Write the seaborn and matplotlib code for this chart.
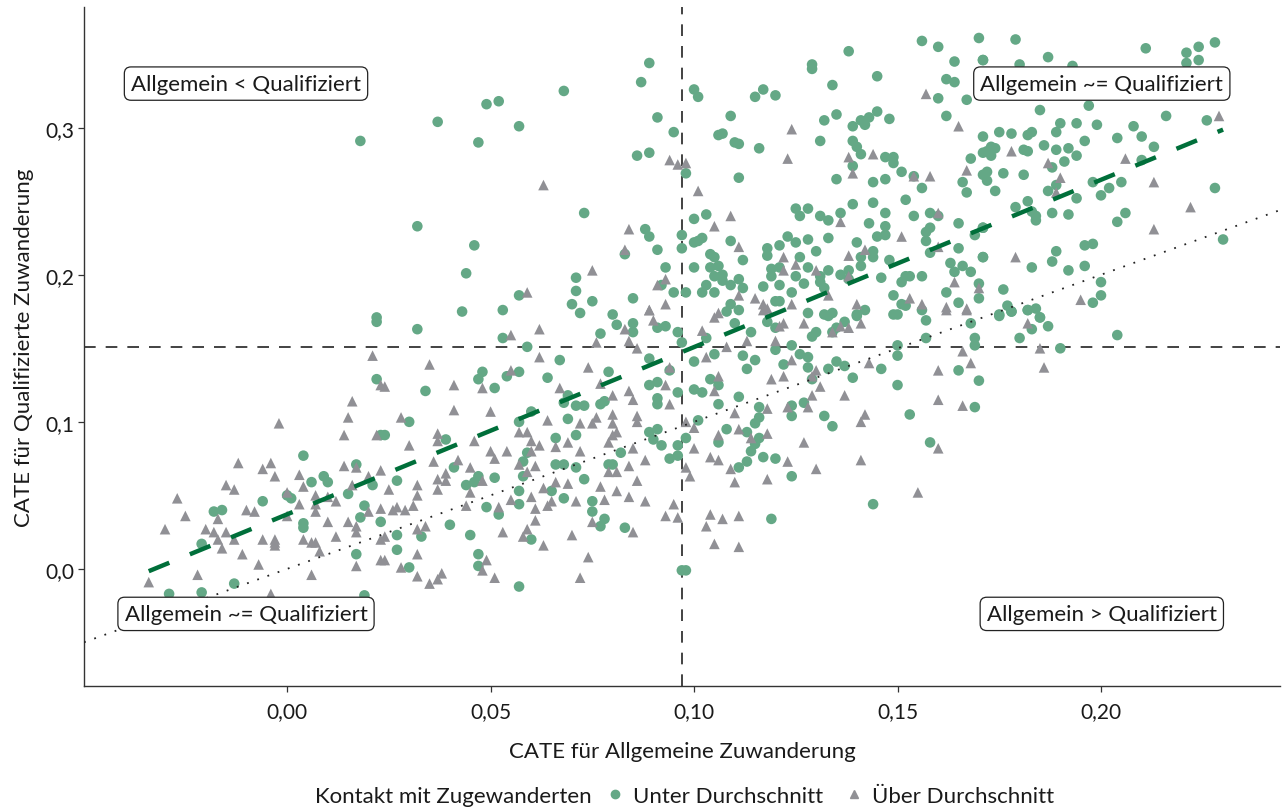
import matplotlib
matplotlib.use("Agg")
import matplotlib.pyplot as plt
from matplotlib.lines import Line2D
from matplotlib.ticker import FuncFormatter
import seaborn as sns
import pandas as pd
import numpy as np

# CATE (Allgemein, Qualifiziert) per Person, Kontakt unter Durchschnitt
unter = [
    (0.018, 0.291), (0.022, 0.171),
    (0.089, 0.344), (0.087, 0.331), (0.068, 0.325), (0.052, 0.318), (0.049, 0.316), (0.037, 0.304),
    (0.057, 0.301), (0.047, 0.290), (0.091, 0.307), (0.095, 0.297), (0.086, 0.281), (0.089, 0.283),
    (0.073, 0.242), (0.032, 0.233), (0.046, 0.220), (0.044, 0.201), (0.088, 0.231), (0.089, 0.226),
    (0.097, 0.227), (0.097, 0.218), (0.091, 0.217), (0.083, 0.214), (0.093, 0.205), (0.071, 0.198),
    (0.071, 0.189), (0.092, 0.193), (0.095, 0.188), (0.057, 0.186), (0.070, 0.180), (0.075, 0.182),
    (0.085, 0.184), (0.043, 0.175), (0.053, 0.176), (0.072, 0.174), (0.080, 0.173),
    (0.156, 0.359), (0.160, 0.355), (0.170, 0.361), (0.138, 0.352), (0.129, 0.343), (0.129, 0.340),
    (0.145, 0.335), (0.164, 0.345), (0.162, 0.333), (0.164, 0.331), (0.171, 0.346), (0.134, 0.329),
    (0.100, 0.326), (0.101, 0.321), (0.117, 0.326), (0.115, 0.321), (0.120, 0.322), (0.160, 0.320),
    (0.167, 0.319), (0.109, 0.308), (0.135, 0.309), (0.132, 0.305), (0.145, 0.311), (0.148, 0.306),
    (0.143, 0.307), (0.141, 0.305), (0.139, 0.301), (0.142, 0.302), (0.162, 0.308), (0.106, 0.295),
    (0.107, 0.296), (0.110, 0.290), (0.111, 0.289), (0.116, 0.286), (0.131, 0.291), (0.139, 0.291),
    (0.140, 0.287), (0.141, 0.282), (0.171, 0.294), (0.171, 0.283), (0.147, 0.280), (0.149, 0.280),
    (0.149, 0.276), (0.139, 0.274), (0.151, 0.270), (0.154, 0.267), (0.168, 0.279), (0.171, 0.268),
    (0.098, 0.269), (0.111, 0.266), (0.135, 0.265), (0.147, 0.265), (0.144, 0.263), (0.156, 0.259),
    (0.166, 0.263), (0.167, 0.256), (0.139, 0.248), (0.144, 0.249), (0.152, 0.251), (0.125, 0.245),
    (0.128, 0.245), (0.126, 0.240), (0.131, 0.240), (0.133, 0.237), (0.136, 0.242), (0.143, 0.235),
    (0.147, 0.242), (0.154, 0.240), (0.158, 0.242), (0.160, 0.240), (0.165, 0.235), (0.171, 0.232),
    (0.100, 0.238), (0.103, 0.241), (0.100, 0.222), (0.101, 0.223), (0.102, 0.225), (0.109, 0.223),
    (0.104, 0.214), (0.105, 0.212), (0.112, 0.210), (0.100, 0.205), (0.104, 0.205), (0.106, 0.206),
    (0.105, 0.199), (0.107, 0.200), (0.107, 0.196), (0.109, 0.193), (0.111, 0.197), (0.112, 0.191),
    (0.103, 0.193), (0.102, 0.188), (0.098, 0.188), (0.105, 0.188), (0.109, 0.180), (0.108, 0.175),
    (0.111, 0.176), (0.118, 0.218), (0.118, 0.213), (0.121, 0.220), (0.123, 0.226), (0.125, 0.222),
    (0.128, 0.224), (0.133, 0.225), (0.130, 0.216), (0.126, 0.212), (0.119, 0.204), (0.121, 0.205),
    (0.119, 0.199), (0.121, 0.193), (0.117, 0.192), (0.124, 0.188), (0.120, 0.182), (0.121, 0.182),
    (0.125, 0.199), (0.127, 0.194), (0.128, 0.205), (0.131, 0.199), (0.133, 0.203), (0.136, 0.200),
    (0.138, 0.203), (0.138, 0.197), (0.131, 0.195), (0.132, 0.191), (0.128, 0.174), (0.132, 0.173),
    (0.134, 0.174), (0.140, 0.222), (0.141, 0.212), (0.141, 0.206), (0.144, 0.212), (0.144, 0.216),
    (0.145, 0.226), (0.147, 0.227), (0.147, 0.233), (0.148, 0.210), (0.146, 0.198), (0.142, 0.176),
    (0.140, 0.173), (0.149, 0.186), (0.151, 0.195), (0.152, 0.199), (0.153, 0.199), (0.151, 0.180),
    (0.152, 0.179), (0.149, 0.173), (0.156, 0.199), (0.157, 0.229), (0.158, 0.232), (0.158, 0.215),
    (0.157, 0.223), (0.165, 0.218), (0.169, 0.227), (0.163, 0.208), (0.166, 0.206), (0.164, 0.202),
    (0.168, 0.202), (0.171, 0.212), (0.162, 0.188), (0.165, 0.181), (0.170, 0.184), (0.156, 0.176),
    (0.170, 0.194),
    (0.179, 0.360), (0.211, 0.354), (0.221, 0.351), (0.224, 0.355), (0.228, 0.358), (0.224, 0.346),
    (0.221, 0.344), (0.187, 0.348), (0.180, 0.343), (0.171, 0.346), (0.193, 0.342), (0.185, 0.312),
    (0.197, 0.315), (0.216, 0.308), (0.226, 0.305), (0.190, 0.303), (0.194, 0.303), (0.199, 0.302),
    (0.208, 0.301), (0.175, 0.297), (0.178, 0.296), (0.182, 0.295), (0.183, 0.297), (0.189, 0.297),
    (0.204, 0.293), (0.210, 0.294), (0.173, 0.287), (0.174, 0.286), (0.172, 0.284), (0.173, 0.281),
    (0.181, 0.285), (0.182, 0.284), (0.186, 0.288), (0.189, 0.285), (0.192, 0.286), (0.196, 0.291),
    (0.194, 0.281), (0.191, 0.277), (0.188, 0.273), (0.213, 0.287), (0.210, 0.278), (0.172, 0.270),
    (0.172, 0.264), (0.176, 0.269), (0.181, 0.268), (0.174, 0.257), (0.198, 0.263), (0.205, 0.263),
    (0.202, 0.259), (0.200, 0.254), (0.189, 0.261), (0.187, 0.257), (0.194, 0.252), (0.182, 0.250),
    (0.179, 0.246), (0.183, 0.243), (0.184, 0.240), (0.184, 0.237), (0.188, 0.242), (0.192, 0.241),
    (0.206, 0.242), (0.204, 0.236), (0.228, 0.259), (0.230, 0.224), (0.171, 0.232), (0.171, 0.212),
    (0.196, 0.220), (0.198, 0.221), (0.189, 0.216), (0.188, 0.209), (0.183, 0.205), (0.192, 0.203),
    (0.196, 0.206), (0.200, 0.195), (0.200, 0.186), (0.198, 0.181), (0.176, 0.190), (0.177, 0.179),
    (0.178, 0.175), (0.182, 0.176), (0.184, 0.177), (0.185, 0.171), (0.175, 0.173),
    (0.022, 0.168), (0.022, 0.129), (0.023, 0.091), (0.004, 0.077), (0.017, 0.071), (0.009, 0.063),
    (0.010, 0.059), (0.006, 0.059), (-0.006, 0.046), (0.000, 0.050), (0.001, 0.048), (0.015, 0.051),
    (0.019, 0.043), (-0.018, 0.039), (-0.016, 0.040), (0.021, 0.057), (0.018, 0.035), (0.023, 0.032),
    (0.004, 0.031), (0.004, 0.028), (-0.021, 0.017), (0.017, 0.010), (-0.013, -0.010), (-0.029, -0.017),
    (-0.021, -0.016), (0.019, -0.018),
    (0.032, 0.163), (0.053, 0.157), (0.059, 0.151), (0.077, 0.160), (0.081, 0.166), (0.085, 0.167),
    (0.085, 0.161), (0.091, 0.164), (0.093, 0.165), (0.096, 0.161), (0.097, 0.154), (0.067, 0.142),
    (0.079, 0.134), (0.089, 0.143), (0.048, 0.134), (0.047, 0.129), (0.057, 0.134), (0.054, 0.131),
    (0.051, 0.123), (0.064, 0.130), (0.034, 0.121), (0.094, 0.135), (0.089, 0.125), (0.091, 0.127),
    (0.096, 0.120), (0.069, 0.118), (0.068, 0.113), (0.071, 0.111), (0.073, 0.111), (0.077, 0.112),
    (0.078, 0.114), (0.091, 0.116), (0.091, 0.112), (0.060, 0.107), (0.069, 0.102), (0.057, 0.100),
    (0.030, 0.100), (0.024, 0.091), (0.039, 0.088), (0.066, 0.089), (0.071, 0.091), (0.089, 0.093),
    (0.090, 0.088), (0.091, 0.095), (0.092, 0.084), (0.096, 0.084), (0.094, 0.075), (0.096, 0.077),
    (0.082, 0.079), (0.059, 0.079), (0.058, 0.073), (0.066, 0.071), (0.068, 0.071), (0.071, 0.069),
    (0.079, 0.071), (0.080, 0.071), (0.041, 0.069), (0.047, 0.063), (0.046, 0.059), (0.051, 0.062),
    (0.058, 0.063), (0.073, 0.061), (0.027, 0.060), (0.044, 0.057), (0.057, 0.053), (0.065, 0.053),
    (0.068, 0.048), (0.057, 0.044), (0.049, 0.042), (0.052, 0.037), (0.075, 0.046), (0.075, 0.039),
    (0.078, 0.034), (0.077, 0.029), (0.083, 0.028), (0.040, 0.030), (0.045, 0.023), (0.033, 0.022),
    (0.027, 0.023), (0.027, 0.013), (0.030, 0.001), (0.047, 0.010), (0.047, 0.002), (0.060, 0.020),
    (0.057, -0.012), (0.097, -0.001),
    (0.110, 0.167), (0.114, 0.161), (0.118, 0.168), (0.120, 0.164), (0.133, 0.172), (0.140, 0.172),
    (0.137, 0.168), (0.135, 0.164), (0.134, 0.161), (0.130, 0.161), (0.129, 0.158), (0.150, 0.173),
    (0.157, 0.169), (0.168, 0.167), (0.157, 0.157), (0.169, 0.157), (0.169, 0.152), (0.150, 0.152),
    (0.150, 0.145), (0.165, 0.135), (0.170, 0.128), (0.169, 0.110), (0.150, 0.125), (0.146, 0.136),
    (0.153, 0.105), (0.158, 0.086), (0.144, 0.044), (0.139, 0.130), (0.133, 0.136), (0.135, 0.141),
    (0.137, 0.138), (0.128, 0.144), (0.128, 0.137), (0.129, 0.129), (0.124, 0.152), (0.126, 0.146),
    (0.120, 0.149), (0.122, 0.139), (0.112, 0.145), (0.115, 0.142), (0.113, 0.136), (0.105, 0.146),
    (0.103, 0.157), (0.100, 0.141), (0.104, 0.129), (0.106, 0.125), (0.100, 0.122), (0.102, 0.120),
    (0.106, 0.112), (0.111, 0.117), (0.116, 0.110), (0.116, 0.103), (0.115, 0.099), (0.124, 0.104),
    (0.124, 0.111), (0.127, 0.113), (0.132, 0.104), (0.134, 0.097), (0.101, 0.101), (0.108, 0.095),
    (0.113, 0.093), (0.116, 0.089), (0.106, 0.086), (0.098, 0.089), (0.115, 0.085), (0.114, 0.080),
    (0.117, 0.076), (0.120, 0.075), (0.113, 0.073), (0.111, 0.069), (0.124, 0.063), (0.119, 0.034),
    (0.098, -0.001),
    (0.175, 0.172), (0.178, 0.175), (0.182, 0.176), (0.185, 0.171), (0.183, 0.163), (0.187, 0.165),
    (0.180, 0.157), (0.190, 0.150), (0.204, 0.159),
]

# Kontakt über Durchschnitt
ueber = [
    (0.094, 0.278), (0.096, 0.275), (0.063, 0.261), (0.084, 0.231), (0.083, 0.217), (0.075, 0.203),
    (0.059, 0.188), (0.093, 0.197), (0.091, 0.193), (0.093, 0.180), (0.089, 0.176),
    (0.157, 0.323), (0.165, 0.301), (0.124, 0.299), (0.123, 0.279), (0.098, 0.276), (0.138, 0.280),
    (0.144, 0.282), (0.139, 0.269), (0.154, 0.267), (0.158, 0.267), (0.167, 0.271), (0.101, 0.257),
    (0.109, 0.240), (0.105, 0.233), (0.111, 0.219), (0.160, 0.242), (0.136, 0.236), (0.151, 0.226),
    (0.142, 0.217), (0.138, 0.213), (0.160, 0.219), (0.122, 0.212), (0.125, 0.207), (0.122, 0.203),
    (0.130, 0.203), (0.138, 0.199), (0.111, 0.186), (0.115, 0.184), (0.117, 0.180), (0.118, 0.177),
    (0.106, 0.174), (0.124, 0.180), (0.133, 0.186), (0.140, 0.180), (0.164, 0.195), (0.170, 0.191),
    (0.153, 0.184), (0.156, 0.180), (0.162, 0.178), (0.167, 0.177),
    (0.178, 0.284), (0.187, 0.276), (0.206, 0.279), (0.190, 0.266), (0.189, 0.256), (0.213, 0.263),
    (0.222, 0.246), (0.213, 0.231), (0.229, 0.308), (0.179, 0.212), (0.195, 0.183),
    (0.021, 0.145), (0.023, 0.125), (0.016, 0.114), (0.015, 0.103), (0.014, 0.091), (-0.002, 0.099),
    (0.022, 0.091), (-0.012, 0.072), (-0.004, 0.072), (-0.006, 0.068), (-0.003, 0.063), (0.014, 0.070),
    (0.017, 0.069), (0.020, 0.063), (0.023, 0.067), (-0.015, 0.057), (-0.013, 0.054), (-0.027, 0.048),
    (0.003, 0.064), (0.004, 0.056), (0.000, 0.052), (0.007, 0.050), (0.007, 0.044), (0.010, 0.049),
    (0.012, 0.046), (0.016, 0.057), (0.003, 0.044), (0.000, 0.036), (-0.010, 0.040), (-0.008, 0.039),
    (-0.025, 0.036), (-0.017, 0.034), (-0.020, 0.027), (-0.030, 0.027), (-0.018, 0.025), (-0.015, 0.025),
    (-0.017, 0.020), (-0.013, 0.020), (-0.006, 0.020), (-0.016, 0.014), (-0.011, 0.010), (-0.003, 0.018),
    (-0.003, 0.020), (-0.003, 0.016), (0.010, 0.032), (0.015, 0.032), (0.017, 0.029), (0.017, 0.025),
    (0.012, 0.022), (0.004, 0.020), (0.006, 0.018), (0.007, 0.018), (0.008, 0.012), (0.023, 0.020),
    (0.023, 0.006), (-0.007, 0.003), (-0.022, -0.004), (0.006, -0.004), (0.017, 0.002), (-0.034, -0.009),
    (-0.004, -0.017), (0.023, 0.041), (0.020, 0.039), (0.007, 0.039),
    (0.055, 0.159), (0.062, 0.163), (0.076, 0.154), (0.083, 0.163), (0.084, 0.155), (0.086, 0.150),
    (0.090, 0.169), (0.089, 0.176), (0.035, 0.139), (0.055, 0.135), (0.062, 0.144), (0.074, 0.137),
    (0.094, 0.137), (0.024, 0.124), (0.041, 0.125), (0.048, 0.123), (0.067, 0.123), (0.077, 0.126),
    (0.084, 0.121), (0.093, 0.125), (0.080, 0.118), (0.085, 0.115), (0.041, 0.108), (0.050, 0.107),
    (0.094, 0.112), (0.028, 0.103), (0.064, 0.101), (0.072, 0.099), (0.076, 0.103), (0.075, 0.099),
    (0.080, 0.105), (0.086, 0.104), (0.086, 0.100), (0.080, 0.099), (0.081, 0.093), (0.080, 0.091),
    (0.037, 0.092), (0.037, 0.087), (0.046, 0.087), (0.057, 0.093), (0.059, 0.093), (0.060, 0.087),
    (0.066, 0.083), (0.069, 0.086), (0.062, 0.084), (0.050, 0.080), (0.054, 0.080), (0.060, 0.080),
    (0.072, 0.080), (0.085, 0.082), (0.079, 0.086), (0.030, 0.084), (0.036, 0.073), (0.042, 0.074),
    (0.051, 0.075), (0.057, 0.071), (0.061, 0.070), (0.084, 0.070), (0.088, 0.074), (0.045, 0.069),
    (0.059, 0.066), (0.079, 0.066), (0.081, 0.066), (0.039, 0.065), (0.037, 0.061), (0.039, 0.060),
    (0.048, 0.060), (0.066, 0.059), (0.086, 0.060), (0.032, 0.057), (0.037, 0.054), (0.045, 0.052),
    (0.063, 0.055), (0.069, 0.058), (0.077, 0.056), (0.081, 0.053), (0.025, 0.054), (0.032, 0.050),
    (0.031, 0.043), (0.027, 0.042), (0.026, 0.040), (0.029, 0.040), (0.044, 0.043), (0.052, 0.042),
    (0.055, 0.047), (0.060, 0.049), (0.061, 0.041), (0.064, 0.043), (0.065, 0.046), (0.071, 0.046),
    (0.078, 0.047), (0.084, 0.049), (0.088, 0.046), (0.095, 0.044), (0.093, 0.036), (0.096, 0.035),
    (0.061, 0.033), (0.024, 0.022), (0.032, 0.027), (0.034, 0.029), (0.053, 0.025), (0.058, 0.022),
    (0.059, 0.027), (0.070, 0.023), (0.075, 0.032), (0.085, 0.025), (0.063, 0.016), (0.032, 0.010),
    (0.049, 0.006), (0.074, 0.008), (0.028, 0.001), (0.032, -0.005), (0.035, -0.010), (0.037, -0.007),
    (0.038, -0.003), (0.048, -0.001), (0.051, -0.006), (0.072, -0.006), (0.024, 0.006),
    (0.105, 0.171), (0.117, 0.176), (0.122, 0.167), (0.121, 0.165), (0.127, 0.167), (0.134, 0.161),
    (0.136, 0.165), (0.138, 0.164), (0.141, 0.167), (0.162, 0.176), (0.167, 0.176), (0.102, 0.162),
    (0.113, 0.155), (0.108, 0.151), (0.120, 0.155), (0.103, 0.144), (0.124, 0.142), (0.130, 0.135),
    (0.129, 0.131), (0.143, 0.140), (0.166, 0.148), (0.168, 0.140), (0.160, 0.135), (0.119, 0.129),
    (0.122, 0.131), (0.106, 0.131), (0.105, 0.121), (0.131, 0.124), (0.129, 0.118), (0.137, 0.118),
    (0.160, 0.115), (0.166, 0.111), (0.118, 0.109), (0.123, 0.110), (0.128, 0.110), (0.142, 0.105),
    (0.141, 0.100), (0.110, 0.106), (0.098, 0.100), (0.100, 0.096), (0.111, 0.095), (0.118, 0.092),
    (0.106, 0.091), (0.114, 0.089), (0.100, 0.082), (0.127, 0.086), (0.160, 0.082), (0.104, 0.076),
    (0.106, 0.074), (0.123, 0.073), (0.141, 0.074), (0.098, 0.069), (0.109, 0.068), (0.130, 0.068),
    (0.099, 0.063), (0.110, 0.059), (0.118, 0.061), (0.155, 0.052), (0.104, 0.037), (0.107, 0.034),
    (0.111, 0.036), (0.103, 0.029), (0.105, 0.017), (0.111, 0.015),
    (0.182, 0.167), (0.185, 0.150), (0.186, 0.137),
]

kontakt_labels = ["Unter Durchschnitt", "Über Durchschnitt"]
mittel_allgemein = 0.097
mittel_qualifiziert = 0.151

df = pd.concat([
    pd.DataFrame(unter, columns=["allgemein", "qualifiziert"]).assign(kontakt=kontakt_labels[0]),
    pd.DataFrame(ueber, columns=["allgemein", "qualifiziert"]).assign(kontakt=kontakt_labels[1]),
], ignore_index=True)

GREEN = "#64a886"
GREY = "#909095"
DARKGREEN = "#006f3a"
INK = "#1a1a1a"

sns.set_theme(style="white")
plt.rcParams["font.family"] = ["Lato", "DejaVu Sans"]

fig = plt.figure(figsize=(12.87, 8.12), dpi=100)
ax = fig.add_axes([0.0653, 0.154, 0.9293, 0.836])

sns.scatterplot(data=df, x="allgemein", y="qualifiziert", hue="kontakt", style="kontakt",
                hue_order=kontakt_labels, style_order=kontakt_labels,
                palette=[GREEN, GREY], markers=["o", "^"], s=58, linewidth=0,
                legend=False, ax=ax, zorder=2)

# Mittelwerte und Winkelhalbierende
ax.axvline(mittel_allgemein, color="#222222", lw=1.2, ls=(0, (7, 6)), zorder=1)
ax.axhline(mittel_qualifiziert, color="#222222", lw=1.2, ls=(0, (7, 6)), zorder=1)
ax.axline((0, 0), slope=1, color="#222222", lw=1.3, ls=(0, (1, 5)), zorder=3)

sns.regplot(data=df, x="allgemein", y="qualifiziert", scatter=False, ci=None, ax=ax,
            line_kws=dict(color=DARKGREEN, lw=3.2, ls=(0, (5, 5)), zorder=4))

ax.set_xlim(-0.0499, 0.244)
ax.set_ylim(-0.0796, 0.382)
ax.set_xticks([0.0, 0.05, 0.10, 0.15, 0.20])
ax.set_yticks([0.0, 0.1, 0.2, 0.3])
ax.xaxis.set_major_formatter(FuncFormatter(lambda v, p: f"{v:.2f}".replace(".", ",")))
ax.yaxis.set_major_formatter(FuncFormatter(lambda v, p: f"{v:.1f}".replace(".", ",")))

for s in ["top", "right"]:
    ax.spines[s].set_visible(False)
for s in ["left", "bottom"]:
    ax.spines[s].set_color("#333333")
    ax.spines[s].set_linewidth(1.0)
ax.tick_params(axis="both", which="major", length=4, width=0.9, color="#333333",
               labelsize=15, labelcolor=INK, bottom=True, left=True)
ax.tick_params(axis="x", pad=7)
ax.tick_params(axis="y", pad=3)

ax.set_xlabel("CATE für Allgemeine Zuwanderung", fontsize=16, color=INK, labelpad=14)
ax.set_ylabel("CATE für Qualifizierte Zuwanderung", fontsize=16, color=INK, labelpad=8)

box = dict(boxstyle="round,pad=0.3,rounding_size=0.3", fc="white", ec="#222222", lw=0.9)
for x, y, txt in [(-0.0101, 0.330, "Allgemein < Qualifiziert"),
                  (0.2002, 0.330, "Allgemein ~= Qualifiziert"),
                  (-0.0101, -0.0306, "Allgemein ~= Qualifiziert"),
                  (0.2002, -0.0306, "Allgemein > Qualifiziert")]:
    ax.text(x, y, txt, ha="center", va="center", fontsize=16, color=INK, bbox=box, zorder=5)

# Legende unten
ly = 1 - 797 / 812
fig.text(592 / 1287, ly, "Kontakt mit Zugewanderten", ha="right", va="center", fontsize=16, color=INK)
handles = [Line2D([], [], marker="o", ls="", color=GREEN, ms=6),
           Line2D([], [], marker="^", ls="", color=GREY, ms=6)]
fig.legend(handles, kontakt_labels, loc="center left", bbox_to_anchor=(604 / 1287, ly), ncol=2,
           frameon=False, fontsize=16, handlelength=1.0, handletextpad=0.3, columnspacing=0.9,
           borderaxespad=0, borderpad=0, labelcolor=INK)

fig.savefig("out.png", dpi=100)
